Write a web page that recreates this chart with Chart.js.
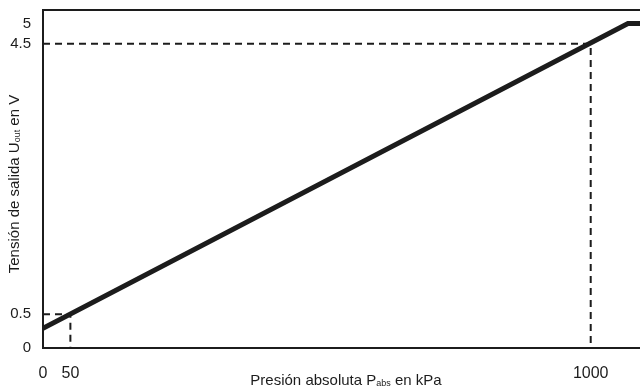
<!DOCTYPE html>
<html>
<head>
<meta charset="utf-8">
<script src="https://cdn.jsdelivr.net/npm/chart.js@4.4.1/dist/chart.umd.min.js"></script>
<style>
  html, body { margin: 0; padding: 0; background: #fff; }
  #wrap { width: 640px; height: 387px; }
</style>
</head>
<body>
<div id="wrap"><canvas id="sensorChart" width="640" height="387"></canvas></div>
<script>
// sensor curve (kPa -> V)
const pressure = [0, 1068, 1090];
const voltage = [0.29, 4.8, 4.8];

// helper dashed lines
const lowRefX = [0, 50, 50];
const lowRefY = [0.5, 0.5, 0];
const highRefX = [0, 1000, 1000];
const highRefY = [4.5, 4.5, 0];

const xTicks = [0, 50, 1000];
const yTicks = [0, 0.5, 4.5, 4.8];
const yTickLabels = ["0", "0.5", "4.5", "5"];

const FONT = "'Liberation Sans Narrow', 'Liberation Sans', Arial, sans-serif";
const INK = "#1c1c1c";

function toPoints(xs, ys) {
    return xs.map((x, i) => ({ x: x, y: ys[i] }));
}

// top border + axis titles with subscripts
const framePlugin = {
    id: "frame",
    afterDraw(chart) {
        const ctx = chart.ctx;
        const a = chart.chartArea;
        ctx.save();
        ctx.strokeStyle = INK;
        ctx.lineWidth = 2;
        ctx.beginPath();
        ctx.moveTo(a.left - 1, a.top);
        ctx.lineTo(a.right, a.top);
        ctx.stroke();

        ctx.fillStyle = INK;
        ctx.textBaseline = "alphabetic";

        // x title
        drawSubText(ctx, [["Presión absoluta P", 15], ["abs", 9], [" en kPa", 15]], 346, 385);
        // y title
        ctx.translate(19, 184);
        ctx.rotate(-Math.PI / 2);
        drawSubText(ctx, [["Tensión de salida U", 15], ["out", 9], [" en V", 15]], 0, 0);
        ctx.restore();
    }
};

function drawSubText(ctx, parts, cx, y) {
    let total = 0;
    parts.forEach(p => {
        ctx.font = p[1] + "px " + FONT;
        total += ctx.measureText(p[0]).width;
    });
    let x = cx - total / 2;
    parts.forEach(p => {
        ctx.font = p[1] + "px " + FONT;
        ctx.textAlign = "left";
        ctx.fillText(p[0], x, p[1] < 12 ? y + 1 : y);
        x += ctx.measureText(p[0]).width;
    });
}

const dashed = {
    showLine: true,
    borderColor: INK,
    borderWidth: 2,
    borderDash: [7, 5],
    pointRadius: 0,
    fill: false
};

new Chart(document.getElementById("sensorChart"), {
    type: "scatter",
    data: {
        datasets: [
            Object.assign({ data: toPoints(lowRefX, lowRefY) }, dashed),
            Object.assign({ data: toPoints(highRefX, highRefY) }, dashed),
            {
                data: toPoints(pressure, voltage),
                showLine: true,
                borderColor: INK,
                borderWidth: 5,
                pointRadius: 0,
                borderJoinStyle: "miter",
                fill: false
            }
        ]
    },
    options: {
        responsive: false,
        animation: false,
        events: [],
        layout: { padding: { top: 10, right: 0, left: 0, bottom: 0 } },
        plugins: { legend: { display: false }, tooltip: { enabled: false } },
        scales: {
            x: {
                type: "linear",
                min: 0,
                max: 1090,
                afterBuildTicks: s => { s.ticks = xTicks.map(v => ({ value: v })); },
                afterFit: s => { s.height = 39; s.paddingRight = 0; },
                grid: { display: false, drawTicks: false },
                border: { display: true, color: INK, width: 2 },
                ticks: {
                    padding: 16,
                    color: INK,
                    maxRotation: 0,
                    autoSkip: false,
                    font: { family: FONT, size: 16 },
                    callback: v => String(v)
                }
            },
            y: {
                type: "linear",
                min: 0,
                max: 5,
                afterBuildTicks: s => { s.ticks = yTicks.map(v => ({ value: v })); },
                afterFit: s => { s.width = 43; s.paddingTop = 0; s.paddingBottom = 0; },
                grid: { display: false, drawTicks: false },
                border: { display: true, color: INK, width: 2 },
                ticks: {
                    padding: 12,
                    color: INK,
                    autoSkip: false,
                    font: { family: FONT, size: 15 },
                    callback: (v, i) => yTickLabels[i]
                }
            }
        }
    },
    plugins: [framePlugin]
});
</script>
</body>
</html>
